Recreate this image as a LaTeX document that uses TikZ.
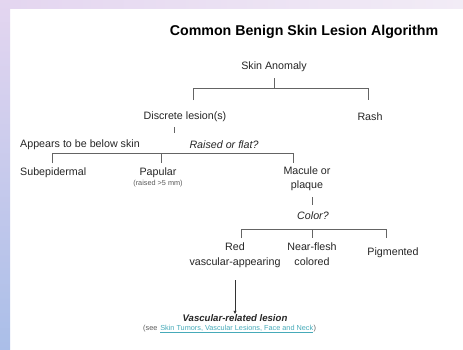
\documentclass[tikz,border=0pt]{standalone}
\usepackage{fontspec}
\setmainfont{Liberation Sans}
\usetikzlibrary{arrows.meta}
\definecolor{bgtl}{RGB}{228,214,240}
\definecolor{bgbl}{RGB}{170,190,232}
\definecolor{bgtr}{RGB}{242,236,246}
\definecolor{linecol}{RGB}{100,100,100}
\definecolor{linkcol}{RGB}{70,170,185}
\tikzset{
  lbl/.style={font=\fontsize{10.7}{12}\selectfont, text=black!85, inner sep=0pt, align=center},
  qlbl/.style={lbl, font=\fontsize{10.7}{12}\selectfont\itshape},
  tiny/.style={font=\fontsize{7.3}{8}\selectfont, text=black!65, inner sep=0pt},
  conn/.style={draw=linecol, line width=0.8pt},
}
\begin{document}
\begin{tikzpicture}[x=1pt,y=-1pt]
\useasboundingbox (0,0) rectangle (463,349);
\fill[white] (0,0) rectangle (463,349);
\shade[top color=bgtl, bottom color=bgbl] (0,0) rectangle (10,349);
\shade[left color=bgtl, right color=bgtr] (10,0) rectangle (463,8);

\node[font=\fontsize{14.2}{16}\selectfont\bfseries, inner sep=0pt] (title) at (304,32) {Common Benign Skin Lesion Algorithm};

\node[lbl] (anom) at (274,67) {Skin Anomaly};
\node[lbl] (disc) at (185,117) {Discrete lesion(s)};
\node[lbl] (rash) at (370,117) {Rash};
\coordinate (hA) at (274,88);
\coordinate (hL) at (193,88);
\coordinate (hR) at (368,88);
\draw[conn] (274,78) -- (hA);
\draw[conn] (hL |- 100,100) -- (hL) -- (hR) -- (hR |- 100,100);

\draw[conn] (174,127) -- (174,133);
\node[lbl, anchor=west] (below) at (20,145) {Appears to be below skin};
\node[qlbl] (raised) at (224,145) {Raised or flat?};

\coordinate (b1) at (52,153);
\coordinate (b2) at (161,153);
\coordinate (b3) at (293,153);
\draw[conn] (52,163) -- (b1) -- (b3) -- (293,163);
\draw[conn] (b2) -- (161,163);

\node[lbl, anchor=west] (sub) at (20,173) {Subepidermal};
\node[lbl] (pap) at (158,173) {Papular};
\node[tiny] (papnote) at (158,184) {(raised >5 mm)};
\node[lbl, anchor=north] (mac) at (307,167) {Macule or\\[2pt]plaque};

\draw[conn] (312,197) -- (312,205);
\node[qlbl] (color) at (313,216) {Color?};

\coordinate (c1) at (241,229);
\coordinate (c2) at (312,229);
\coordinate (c3) at (386,229);
\draw[conn] (241,238) -- (c1) -- (c3) -- (386,238);
\draw[conn] (c2) -- (312,238);

\node[lbl, anchor=north] (red) at (235,243) {Red\\[3pt]vascular-appearing};
\node[lbl, anchor=north] (flesh) at (312,243) {Near-flesh\\[3pt]colored};
\node[lbl] (pig) at (393,253) {Pigmented};

\node[lbl, font=\fontsize{9.6}{11}\selectfont\bfseries\itshape] (vasc) at (235,318) {Vascular-related lesion};
\node[tiny, anchor=base west] (see) at (143,330.5) {(see\strut};
\node[tiny, anchor=base west, text=linkcol] (link) at ([xshift=2.5pt]see.base east) {Skin Tumors, Vascular Lesions, Face and Neck};
\node[tiny, anchor=base west] (close) at (link.base east) {)};
\draw[linkcol, line width=0.4pt] ([yshift=-1.2pt]link.base west) -- ([yshift=-1.2pt]link.base east);

\coordinate (arrtop) at (235,280);
\draw[draw=black!80, line width=0.8pt, -{Latex[length=3.5pt,width=3.5pt]}] (arrtop) -- (vasc.north);
\end{tikzpicture}
\end{document}
